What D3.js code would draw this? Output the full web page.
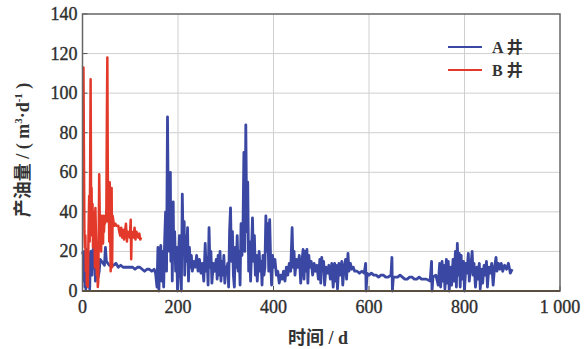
<!DOCTYPE html>
<html>
<head>
<meta charset="utf-8">
<script src="https://cdn.jsdelivr.net/npm/d3@7"></script>
<style>
  body { margin: 0; background: #fff; }
  svg { display: block; }
  .grid line { stroke: #cfcfcf; stroke-width: 1; }
  .tick-label { font-family: "Liberation Serif", serif; font-size: 18px; fill: #2e2e2e; stroke: #2e2e2e; stroke-width: 0.35; }
  .title { font-family: "Liberation Serif", "Noto Sans CJK SC", serif; font-size: 18px; font-weight: bold; fill: #333; }
  .legend-label { font-family: "Liberation Serif", "Noto Sans CJK SC", serif; font-size: 16px; font-weight: bold; fill: #333; }
</style>
</head>
<body>
<svg></svg>
<script>
(function() {

  const xTicks = [0, 200, 400, 600, 800, 1000]
  const yTicks = [0, 20, 40, 60, 80, 100, 120, 140]
  const seriesNames = ['A 井', 'B 井']

  // well A: [day, oil rate]
  const wellA = [
    [0,20],[2,18],[3,5],[4,20],[5,2],[6,19],[7,1],[8,21],[9,4],[10,20],[12,3],[13,19],[15,1],[17,20],[19,18],
    [20,8],[22,21],[24,12],[26,19],[27,5],[29,16],[31,8],[33,7],[35,10],[37,16],[40,15],[43,14],[46,13],[48,22],
    [50,15],[53,14],[56,13],[60,13],[65,13],[70,14],[75,12],[80,13],[85,12],[90,12],[95,12],[100,12],[105,12],
    [110,11],[115,12],[120,12],[125,11],[130,10],[135,11],[140,11],[145,10],[150,11],[153,9],
    [156,2],[158,22],[160,0],[162,18],[164,23],[166,5],[168,20],[170,2],[172,25],[174,40],[176,10],[178,88],
    [179,60],[180,30],[181,55],[182,20],[184,60],[185,15],[187,38],[188,5],[190,45],[191,20],[193,30],[195,10],
    [197,22],[199,0],[201,15],[203,28],[205,12],[207,0],[209,49],[211,20],[213,35],[214,8],[216,28],[218,15],
    [220,32],[222,5],[224,22],[226,12],[228,18],[230,10],[233,15],[236,12],[239,18],[242,10],[245,16],[248,9],
    [251,14],[254,5],[257,24],[259,10],[261,17],[263,3],[265,32],[267,12],[269,20],[271,4],[274,14],[277,10],
    [280,16],[282,6],[284,18],[286,8],[288,20],[290,5],[292,15],[294,8],[296,18],[298,4],[300,12],[302,10],
    [304,14],[306,2],[308,30],[310,42],[312,15],[314,30],[316,8],[318,2],[320,22],[322,12],[324,28],[326,10],
    [328,20],[330,3],[332,34],[334,18],[336,30],[338,70],[340,20],[342,84],[344,30],[346,55],[348,10],[350,25],
    [352,5],[354,20],[356,37],[358,15],[360,28],[362,8],[364,18],[366,5],[368,14],[370,20],[372,10],[374,15],
    [376,3],[378,18],[380,8],[382,12],[384,38],[386,20],[388,34],[390,10],[392,36],[394,15],[396,3],[398,18],
    [400,12],[403,16],[406,8],[409,10],[412,4],[415,8],[418,6],[421,10],[424,5],[427,12],[430,8],[433,14],
    [436,10],[439,32],[441,12],[443,20],[445,8],[448,16],[451,12],[454,18],[457,4],[460,16],[462,21],[464,6],
    [466,20],[468,10],[470,21],[472,4],[474,18],[476,12],[479,15],[482,8],[485,14],[488,10],[491,13],[494,6],
    [497,16],[499,4],[501,17],[503,10],[505,15],[507,3],[510,12],[513,9],[516,13],[519,6],[522,14],[525,2],
    [528,14],[530,5],[532,13],[534,1],[537,14],[540,8],[543,15],[545,3],[548,12],[551,16],[553,6],[556,19],
    [558,10],[561,14],[564,11],[567,12],[570,10],[575,10],[580,9],[585,10],[590,9],[593,14],[594,0],[596,9],
    [600,8],[605,9],[610,8],[615,8],[620,7],[625,8],[630,8],[635,7],[640,7],[646,8],[648,17],[649,0],[651,7],
    [660,7],[665,8],[670,7],[675,6],[680,6],[685,7],[690,7],[695,6],[700,6],[705,7],[710,6],[715,6],[720,6],
    [728,5],[731,15],[732,0],[734,7],[740,8],[745,3],[748,14],[750,2],[753,15],[755,5],
    [757,13],[759,1],[762,16],[764,4],[766,15],[768,0],[771,12],[773,3],[776,16],[778,5],[781,20],[783,2],
    [785,24],[787,8],[789,19],[791,2],[793,18],[795,6],[798,15],[800,0],[803,14],[805,9],[808,19],[810,5],
    [813,12],[816,20],[818,8],[820,14],[823,2],[826,12],[828,6],[831,14],[833,1],[836,11],[838,4],[841,13],
    [843,8],[846,15],[848,2],[851,12],[854,9],[857,14],[860,3],[863,12],[866,17],[868,10],[871,14],[874,11],
    [877,14],[880,10],[884,13],[888,11],[892,14],[896,9],[900,11]
  ]

  // well B: [day, oil rate]
  const wellB = [
    [1,112],[2,113],[3,70],[4,30],[5,22],[6,28],[7,10],[8,20],[9,3],[10,12],[11,2],[12,18],[13,35],[14,48],
    [15,25],[16,60],[17,107],[18,45],[19,52],[20,28],[21,44],[22,22],[23,40],[24,28],[25,36],[26,12],[27,42],
    [28,30],[29,20],[30,8],[31,18],[32,2],[33,5],[34,30],[35,59],[36,40],[37,26],[38,36],[39,20],[40,38],
    [41,28],[42,32],[43,24],[44,38],[45,30],[46,36],[47,34],[48,38],[49,35],[50,42],[51,85],[52,118],[53,60],
    [54,35],[55,50],[56,25],[57,55],[58,32],[59,10],[60,40],[61,52],[62,12],[63,38],[65,35],[67,33],[69,34],
    [71,33],[73,33],[75,33],[77,30],[79,28],[81,32],[83,27],[85,31],[87,26],[89,30],[91,34],[93,25],[95,30],
    [97,28],[99,27],[101,36],[102,16],[103,30],[105,29],[107,27],[109,32],[111,26],[113,30],[115,28],[117,27],
    [119,29],[121,26],[123,27]
  ]

  const colors = ['#3b48a3', '#e2392a']

  const svgWidth = 588
  const svgHeight = 349
  const margin = {left: 82.5, right: 28, top: 14, bottom: 58}

  const svg = d3.select('svg')
    .attr('width', svgWidth)
    .attr('height', svgHeight)

  const x = d3.scaleLinear()
    .domain([0, 1000])
    .range([margin.left, svgWidth - margin.right])

  const y = d3.scaleLinear()
    .domain([0, 140])
    .range([svgHeight - margin.bottom, margin.top])

  const grid = svg.append('g').classed('grid', true)

  grid.selectAll('.gx')
    .data(xTicks.slice(1, -1))
    .enter()
    .append('line')
    .attr('x1', d => x(d)).attr('x2', d => x(d))
    .attr('y1', y(0)).attr('y2', y(140))

  grid.selectAll('.gy')
    .data(yTicks.slice(1, -1))
    .enter()
    .append('line')
    .attr('x1', x(0)).attr('x2', x(1000))
    .attr('y1', d => y(d)).attr('y2', d => y(d))

  // inward tick marks
  svg.selectAll('.tx')
    .data(xTicks)
    .enter()
    .append('line')
    .attr('x1', d => x(d)).attr('x2', d => x(d))
    .attr('y1', y(0)).attr('y2', y(0) - 5)
    .attr('stroke', '#555')

  svg.selectAll('.ty')
    .data(yTicks)
    .enter()
    .append('line')
    .attr('x1', x(0)).attr('x2', x(0) + 5)
    .attr('y1', d => y(d)).attr('y2', d => y(d))
    .attr('stroke', '#555')

  const line = d3.line()
    .x(d => x(d[0]))
    .y(d => y(d[1]))

  svg.append('path')
    .datum(wellA)
    .attr('d', line)
    .attr('fill', 'none')
    .attr('stroke', colors[0])
    .attr('stroke-width', 2.8)
    .attr('stroke-linejoin', 'round')

  svg.append('path')
    .datum(wellB)
    .attr('d', line)
    .attr('fill', 'none')
    .attr('stroke', colors[1])
    .attr('stroke-width', 2.5)
    .attr('stroke-linejoin', 'round')

  // frame
  svg.append('rect')
    .attr('x', x(0)).attr('y', y(140))
    .attr('width', x(1000) - x(0)).attr('height', y(0) - y(140))
    .attr('fill', 'none')
    .attr('stroke', '#666')
    .attr('stroke-width', 1.5)

  svg.append('line')
    .attr('x1', x(0)).attr('x2', x(1000))
    .attr('y1', y(0)).attr('y2', y(0))
    .attr('stroke', '#5a4e40')
    .attr('stroke-width', 2)

  svg.selectAll('.ylab')
    .data(yTicks)
    .enter()
    .append('text')
    .classed('tick-label', true)
    .attr('x', x(0) - 5)
    .attr('y', d => y(d) + 6)
    .attr('text-anchor', 'end')
    .text(d => d)

  svg.selectAll('.xlab')
    .data(xTicks)
    .enter()
    .append('text')
    .classed('tick-label', true)
    .attr('x', d => x(d))
    .attr('y', y(0) + 22)
    .attr('text-anchor', 'middle')
    .text(d => d === 1000 ? '1 000' : d)

  svg.append('text')
    .classed('title', true)
    .attr('x', 318)
    .attr('y', 344)
    .attr('text-anchor', 'middle')
    .text('时间 / d')

  svg.append('text')
    .classed('title', true)
    .attr('transform', 'translate(29,150) rotate(-90)')
    .attr('text-anchor', 'middle')
    .html('产油量 / ( m<tspan dy="-7" font-size="11">3</tspan><tspan dy="7">·d</tspan><tspan dy="-7" font-size="11">-1</tspan><tspan dy="7"> )</tspan>')

  const legend = svg.append('g')
    .selectAll('g')
    .data(seriesNames)
    .enter()
    .append('g')
    .attr('transform', (d, i) => `translate(448,${47 + i * 23})`)

  legend.append('line')
    .attr('x1', 0).attr('x2', 34)
    .attr('stroke', (d, i) => colors[i])
    .attr('stroke-width', 2)

  legend.append('text')
    .classed('legend-label', true)
    .attr('x', 44)
    .attr('y', 6)
    .text(d => d)

})()
</script>
</body>
</html>
